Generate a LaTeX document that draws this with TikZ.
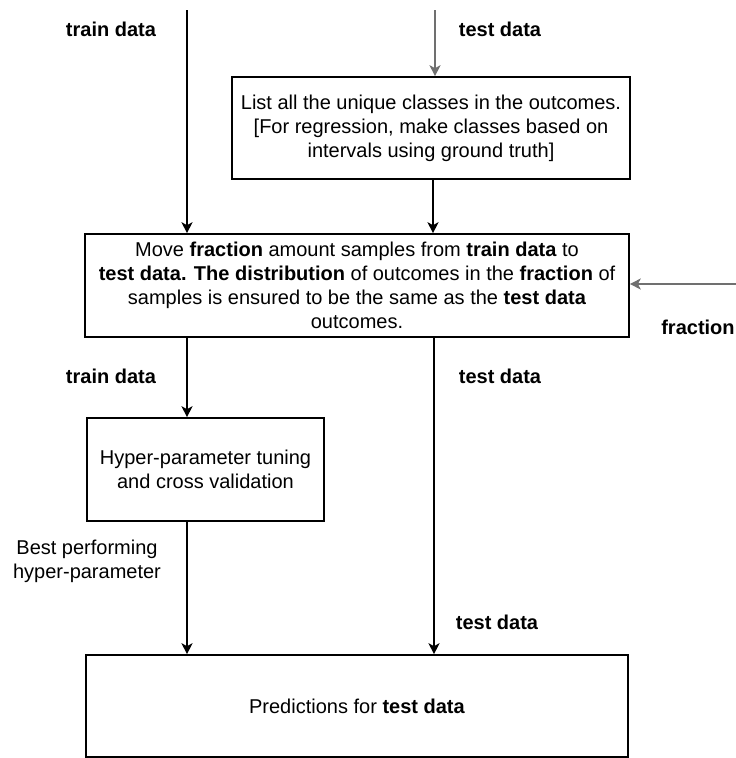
\documentclass[tikz,border=0pt]{standalone}
\usepackage{fontspec}
\setmainfont{Liberation Sans}
\usetikzlibrary{arrows.meta}
\definecolor{feedgray}{HTML}{707070}
\tikzset{
  x=1pt, y=-1pt,
  every node/.style={font=\fontsize{20}{24}\selectfont},
  procbox/.style={draw=black, line width=1.6pt, inner sep=0pt, align=center},
  flow/.style={draw=black, line width=1.6pt, -{Stealth[length=11pt,width=11pt,inset=3pt]}},
  feed/.style={flow, draw=feedgray},
  lbl/.style={inner sep=0pt, font=\fontsize{20}{24}\selectfont\bfseries},
  note/.style={inner sep=0pt, align=center}
}
\begin{document}
\begin{tikzpicture}
\useasboundingbox (0,0) rectangle (736,758);

% processing steps
\node[procbox, minimum width=398pt, minimum height=102pt] (classes) at (431,128)
  {List all the unique classes in the outcomes.\\
   {[}For regression, make classes based on\\
   intervals using ground truth{]}};
\node[procbox, minimum width=544pt, minimum height=103pt] (move) at (357,285.5)
  {Move \textbf{fraction} amount samples from \textbf{train data} to\\
   \textbf{test data. The distribution} of outcomes in the \textbf{fraction} of\\
   samples is ensured to be the same as the \textbf{test data}\\
   outcomes.};
\node[procbox, minimum width=237pt, minimum height=103pt] (tune) at (205.5,469.5)
  {Hyper-parameter tuning\\ and cross validation};
\node[procbox, minimum width=542pt, minimum height=102pt] (pred) at (357,706)
  {Predictions for \textbf{test data}};

% free ends of the input arrows
\coordinate (trainin) at (187,10);
\coordinate (testin) at (435,10);
\coordinate (fracin) at (737,284);
\coordinate (leftcol) at (187,0);
\coordinate (testcol) at (434,0);

% connectors
\draw[flow] (trainin) -- (trainin |- move.north);
\draw[feed] (testin) -- (testin |- classes.north);
\draw[flow] (classes.south -| 433,0) -- (move.north -| 433,0);
\draw[feed] (fracin) -- (move.east |- fracin);
\draw[flow] (leftcol |- move.south) -- (leftcol |- tune.north);
\draw[flow] (leftcol |- tune.south) -- (leftcol |- pred.north);
\draw[flow] (testcol |- move.south) -- (testcol |- pred.north);

% connector labels
\node[lbl] (l1) at (111,29) {train data};
\node[lbl] (l2) at (500,29) {test data};
\node[lbl] (l3) at (698,327) {fraction};
\node[lbl] (l4) at (111,376) {train data};
\node[lbl] (l5) at (500,376) {test data};
\node[lbl] (l6) at (497,622) {test data};
\node[note] (l7) at (87,561) {Best performing\\ hyper-parameter};
\end{tikzpicture}
\end{document}
